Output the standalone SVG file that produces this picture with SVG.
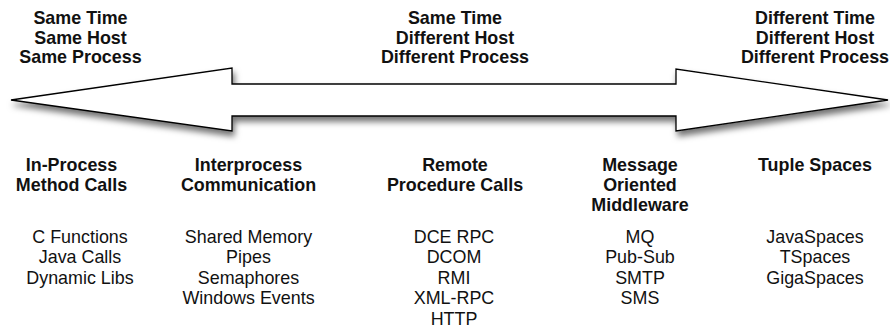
<svg xmlns="http://www.w3.org/2000/svg" width="890" height="329" viewBox="0 0 890 329">
<defs>
<filter id="shadow" x="-5%" y="-30%" width="110%" height="180%">
<feDropShadow dx="2" dy="5" stdDeviation="3" flood-color="#000" flood-opacity="0.55"/>
</filter>
</defs>
<style>
text{font-family:"Liberation Sans",Arial,Helvetica,sans-serif;font-size:17.9px;fill:#111;text-anchor:middle}
.b{font-weight:bold}
.arrow{fill:#fff;stroke:#000;stroke-width:1.3;stroke-linejoin:miter}
</style>
<rect width="890" height="329" fill="#fff"/>
<g id="connectors">
<polygon class="arrow" filter="url(#shadow)" points="11,100 232,68 232,84 676,84 676,69 888,100 676,131 676,116 232,116 232,131"/>
</g>
<g id="title-left">
<text class="b" x="80.5" y="24">Same Time</text>
<text class="b" x="80.5" y="43.5">Same Host</text>
<text class="b" x="80.5" y="63">Same Process</text>
</g>
<g id="title-middle">
<text class="b" x="455" y="24">Same Time</text>
<text class="b" x="455" y="43.5">Different Host</text>
<text class="b" x="455" y="63">Different Process</text>
</g>
<g id="title-right">
<text class="b" x="815" y="24">Different Time</text>
<text class="b" x="815" y="43.5">Different Host</text>
<text class="b" x="815" y="63">Different Process</text>
</g>
<g id="in-process">
<text class="b" x="71.5" y="171">In-Process</text>
<text class="b" x="71.5" y="191">Method Calls</text>
<text x="80" y="242.5">C Functions</text>
<text x="80" y="263">Java Calls</text>
<text x="80" y="283.5">Dynamic Libs</text>
</g>
<g id="ipc">
<text class="b" x="248.5" y="171">Interprocess</text>
<text class="b" x="248.5" y="191">Communication</text>
<text x="248.5" y="242.5">Shared Memory</text>
<text x="248.5" y="263">Pipes</text>
<text x="248.5" y="283.5">Semaphores</text>
<text x="248.5" y="304">Windows Events</text>
</g>
<g id="rpc">
<text class="b" x="455" y="171">Remote</text>
<text class="b" x="455" y="191">Procedure Calls</text>
<text x="454" y="242.5">DCE RPC</text>
<text x="454" y="263">DCOM</text>
<text x="454" y="283.5">RMI</text>
<text x="454" y="304">XML-RPC</text>
<text x="454" y="324.5">HTTP</text>
</g>
<g id="mom">
<text class="b" x="640" y="171">Message</text>
<text class="b" x="640" y="191">Oriented</text>
<text class="b" x="640" y="211">Middleware</text>
<text x="640" y="242.5">MQ</text>
<text x="640" y="263">Pub-Sub</text>
<text x="640" y="283.5">SMTP</text>
<text x="640" y="304">SMS</text>
</g>
<g id="tuple-spaces">
<text class="b" x="815" y="171">Tuple Spaces</text>
<text x="815" y="242.5">JavaSpaces</text>
<text x="815" y="263">TSpaces</text>
<text x="815" y="283.5">GigaSpaces</text>
</g>
</svg>
